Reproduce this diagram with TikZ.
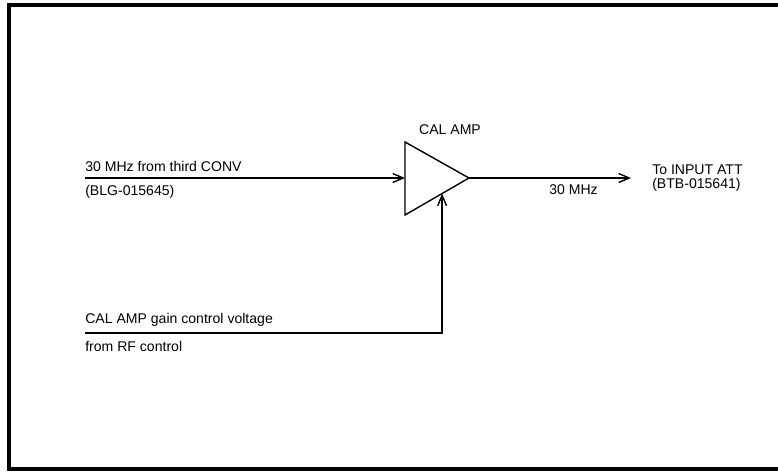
\documentclass[tikz,border=0pt]{standalone}
\usepackage{fontspec}
\setmainfont{Liberation Sans}
\usetikzlibrary{positioning, arrows.meta, calc}
\tikzset{
  sig/.style={-{Straight Barb[length=2.6mm, width=2.2mm]}, line width=1pt},
  wire/.style={line width=1pt},
  lbl/.style={inner sep=0pt, font=\fontsize{10}{12}\selectfont},
  frame/.style={line width=2.2pt}
}
\begin{document}
\begin{tikzpicture}[x=0.025cm, y=-0.025cm]
\useasboundingbox (0,0) rectangle (778,472);
% outer frame
\draw[frame] (780,5) -- (9,5) -- (9,469) -- (780,469);
% amplifier
\coordinate (ampL) at (405,178);
\coordinate (ampT) at (405,142);
\coordinate (ampB) at (405,215);
\coordinate (ampO) at (469,178);
\draw[wire] (ampT) -- (ampO) -- (ampB) -- cycle;
\coordinate (ampC) at ($(ampB)!0.58!(ampO)$);
\node[lbl, anchor=south] (amptitle) at (450,135) {CAL AMP};
% input signal
\coordinate (inA) at (85,178);
\draw[sig] (inA) -- (ampL);
\node[lbl, anchor=south west] (inlbl) at (85,172) {30 MHz from third CONV};
\node[lbl, anchor=north west] (inref) at (85,185) {(BLG-015645)};
% output signal
\coordinate (outA) at (631,178);
\draw[sig] (ampO) -- (outA);
\node[lbl, anchor=north east] (outlbl) at (598,184) {30 MHz};
\node[lbl, anchor=south west] (outdst) at (652,175) {To INPUT ATT};
\node[lbl, anchor=north west] (outref) at (652,178) {(BTB-015641)};
% gain control
\coordinate (ctlA) at (85,333);
\coordinate (ctlB) at (ampC |- ctlA);
\draw[sig] (ctlA) -- (ctlB) -- (ampC);
\node[lbl, anchor=south west] (ctllbl) at (85,327) {CAL AMP gain control voltage};
\node[lbl, anchor=north west] (ctlsrc) at (85,341) {from RF control};
\end{tikzpicture}
\end{document}
